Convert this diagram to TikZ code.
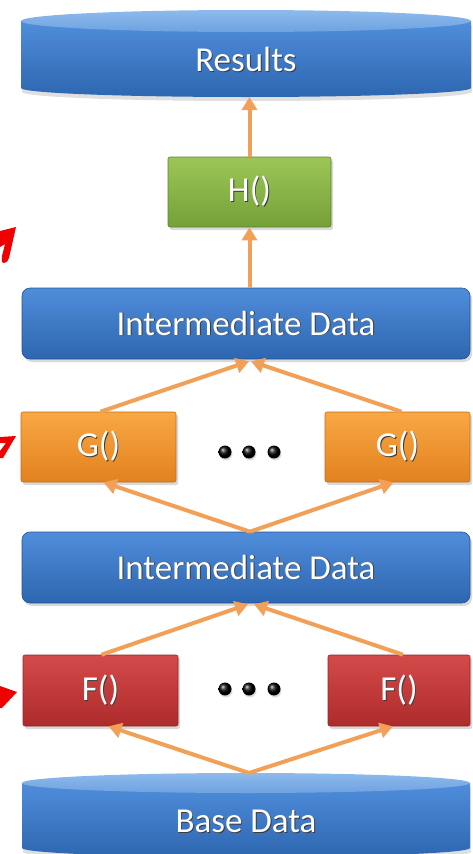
\documentclass[tikz,border=0pt]{standalone}
\usepackage{fontspec}
\setmainfont{Carlito}
\usetikzlibrary{arrows.meta,calc,shadows}

\definecolor{bluetop}{HTML}{4F8DDB}
\definecolor{bluebot}{HTML}{2E66B0}
\definecolor{lidtop}{HTML}{8DBAEC}
\definecolor{lidbot}{HTML}{6EA2E0}
\definecolor{greentop}{HTML}{9CC757}
\definecolor{greenbot}{HTML}{74A038}
\definecolor{orangetop}{HTML}{F9A843}
\definecolor{orangebot}{HTML}{E2811F}
\definecolor{redtop}{HTML}{D44A4A}
\definecolor{redbot}{HTML}{AE2B2B}
\definecolor{flowc}{HTML}{F2A057}
\definecolor{marker}{HTML}{F00000}
\definecolor{textshade}{HTML}{3A3A3A}

% white lettering with a soft dark offset copy behind it
\newcommand\shadedtext[1]{\leavevmode\rlap{\kern0.9pt\raisebox{-0.9pt}{\textcolor{textshade}{#1}}}#1}

\tikzset{
  label text/.style={text=white, font=\fontsize{35}{40}\selectfont},
  box/.style={label text, inner sep=0pt, rounded corners=2pt,
    drop shadow={opacity=0.3, shadow xshift=2pt, shadow yshift=-3pt}},
  databox/.style={box, rounded corners=8pt, minimum height=71pt,
    top color=bluetop, bottom color=bluebot, draw=bluebot!80!black, line width=0.6pt},
  hbox/.style={box, top color=greentop, bottom color=greenbot, draw=greenbot!80!black, line width=0.6pt},
  gbox/.style={box, top color=orangetop, bottom color=orangebot, draw=orangebot!85!black, line width=0.6pt},
  fbox/.style={box, top color=redtop, bottom color=redbot, draw=redbot!85!black, line width=0.6pt},
  dot/.style={circle, inner sep=0pt, minimum size=13pt, ball color=black,
    drop shadow={opacity=0.25, shadow xshift=1pt, shadow yshift=-2pt}},
  flow/.style={draw=flowc, line width=4pt, -{Triangle[length=13pt,width=15pt]}},
  cylbody/.style={top color=bluetop, bottom color=bluebot,
    drop shadow={opacity=0.25, shadow xshift=1pt, shadow yshift=-4pt}},
  cyllid/.style={top color=lidtop, bottom color=lidbot},
}

\begin{document}
\begin{tikzpicture}[x=1pt, y=-1pt]
\useasboundingbox (0,0) rectangle (472,854);

% ---- Results store (cylinder) ----
\path[cylbody] (21,21) -- (21,88) arc[start angle=180, end angle=0, x radius=225, y radius=9]
  -- (471,21) -- cycle;
\path[cyllid] (246,21) ellipse[x radius=225, y radius=11];
\node[label text] (res) at (246,60) {\shadedtext{Results}};
\coordinate (resbot) at (246,97);

% ---- Base Data store (cylinder) ----
\path[cylbody] (22,783) -- (22,848) arc[start angle=180, end angle=0, x radius=224, y radius=9]
  -- (470,783) -- cycle;
\path[cyllid] (246,783) ellipse[x radius=224, y radius=10];
\node[label text] (base) at (246,822) {\shadedtext{Base Data}};
\coordinate (basetop) at (249,773);

% ---- processing stages ----
\node[hbox, minimum width=163pt, minimum height=70pt] (H) at (249.5,192) {\shadedtext{H()}};

\node[databox, minimum width=448pt] (ID1) at (246,323.5) {\shadedtext{Intermediate Data}};

\node[gbox, minimum width=155pt, minimum height=70pt] (GL) at (98.5,447) {\shadedtext{G()}};
\node[gbox, minimum width=145pt, minimum height=70pt] (GR) at (397.5,447) {\shadedtext{G()}};
\node[dot] (g1) at (225,452) {};
\node[dot] (g2) at (249,452) {};
\node[dot] (g3) at (274,452) {};

\node[databox, minimum width=448pt] (ID2) at (246,567.5) {\shadedtext{Intermediate Data}};

\node[fbox, minimum width=155pt, minimum height=71pt] (FL) at (100.5,690.5) {\shadedtext{F()}};
\node[fbox, minimum width=142pt, minimum height=71pt] (FR) at (399,690.5) {\shadedtext{F()}};
\node[dot] (f1) at (225,689) {};
\node[dot] (f2) at (249,689) {};
\node[dot] (f3) at (274,689) {};

% ---- data flow ----
\draw[flow] (H.north) -- (H.north |- resbot);
\draw[flow] (H.south |- ID1.north) -- (H.south);

\draw[flow] ($(GL.north)+(2,0)$) -- ($(ID1.south)+(3,2)$);
\draw[flow] ($(GR.north)+(4,0)$) -- ($(ID1.south)+(5,2)$);

\draw[flow] ($(ID2.north)+(4,0)$) -- ($(GL.south)+(5,0)$);
\draw[flow] ($(ID2.north)+(4,0)$) -- ($(GR.south)+(-4,0)$);

\draw[flow] ($(FL.north)+(1,0)$) -- ($(ID2.south)+(2,1)$);
\draw[flow] ($(FR.north)+(4,0)$) -- ($(ID2.south)+(8,1)$);

\draw[flow] (basetop) -- ($(FL.south)+(8,0)$);
\draw[flow] (basetop) -- ($(FR.south)+(-6,0)$);

% ---- red pointers entering from the left margin ----
\fill[marker] (0,231) -- (16,227) -- (9,258) to[out=250,in=0] (4,263)
  to[out=180,in=260] (2,256) -- (5,244) -- (0,247) -- cycle;
\fill[marker] (0,437) -- (16,436) -- (3,458) -- (0,458) -- (0,451) -- (6,443) -- (0,443) -- cycle;
\fill[marker] (0,686) -- (17,692) -- (2,708) -- (0,708) -- cycle;
\end{tikzpicture}
\end{document}
